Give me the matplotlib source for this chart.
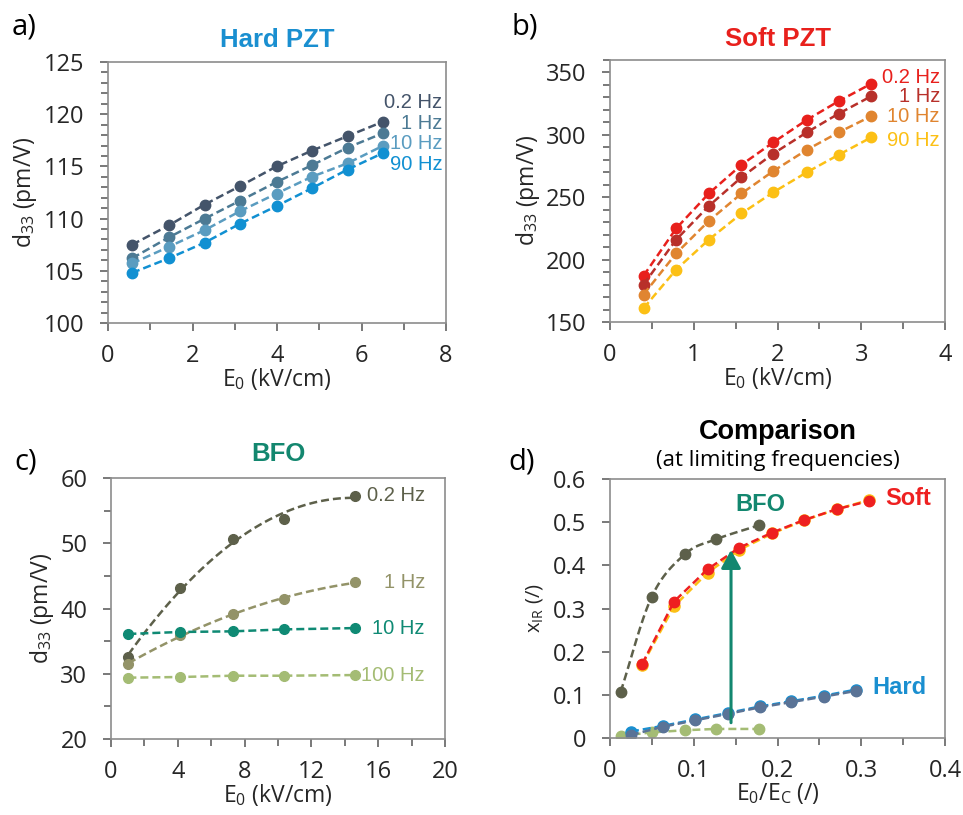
import numpy as np
import matplotlib
matplotlib.use("Agg")
import matplotlib.pyplot as plt
from matplotlib.ticker import MultipleLocator
from matplotlib.transforms import blended_transform_factory

plt.rcParams['font.family'] = ['Open Sans', 'DejaVu Sans']
plt.rcParams['mathtext.default'] = 'regular'

# ---- a) Hard PZT ----
hard_e0 = [0.57, 1.44, 2.29, 3.12, 3.99, 4.82, 5.67, 6.52]
hard_d33 = {
    '0.2 Hz': [107.5, 109.35, 111.35, 113.1, 115.0, 116.5, 117.9, 119.3],
    '1 Hz': [106.2, 108.2, 110.0, 111.7, 113.5, 115.1, 116.8, 118.2],
    '10 Hz': [105.7, 107.3, 108.9, 110.7, 112.4, 114.0, 115.3, 117.0],
    '90 Hz': [104.8, 106.2, 107.7, 109.5, 111.2, 112.9, 114.7, 116.3],
}
hard_colors = ['#44546a', '#4c7a94', '#5a9cc0', '#1190d2']

# ---- b) Soft PZT ----
soft_e0 = [0.40, 0.79, 1.18, 1.57, 1.95, 2.35, 2.73, 3.12]
soft_d33 = {
    '0.2 Hz': [187, 225, 253, 276, 294, 312, 327, 341],
    '1 Hz': [180, 216, 243, 266, 285, 302, 317, 331],
    '10 Hz': [172, 205, 231, 253, 271, 288, 302, 315],
    '90 Hz': [161, 192, 216, 237, 254, 270, 284, 298],
}
soft_colors = ['#e8201c', '#b8302a', '#e08530', '#fcc015']

# ---- c) BFO ----
bfo_e0 = [1.04, 4.13, 7.29, 10.38, 14.6]
bfo_d33 = {
    '0.2 Hz': [32.6, 43.2, 50.6, 53.7, 57.3],
    '1 Hz': [31.5, 35.9, 39.1, 41.5, 44.0],
    '10 Hz': [36.1, 36.4, 36.5, 36.8, 37.0],
    '100 Hz': [29.4, 29.5, 29.7, 29.7, 29.8],
}
bfo_colors = ['#5d604a', '#939368', '#0f8a74', '#a4bc74']
bfo_fit = [True, True, False, False]

# ---- d) Comparison ----
cmp_bfo_x = [0.0127, 0.0498, 0.0896, 0.126, 0.178]
cmp_bfo_slow = [0.107, 0.327, 0.426, 0.460, 0.493]
cmp_bfo_fast = [0.005, 0.013, 0.018, 0.021, 0.021]
cmp_soft_x = [0.0386, 0.0764, 0.1166, 0.1545, 0.1939, 0.2317, 0.2707, 0.3089]
cmp_soft_slow = [0.172, 0.316, 0.391, 0.441, 0.476, 0.505, 0.530, 0.549]
cmp_soft_fast = [0.170, 0.305, 0.383, 0.436, 0.474, 0.504, 0.530, 0.551]
cmp_hard_x = [0.025, 0.063, 0.102, 0.141, 0.179, 0.216, 0.2556, 0.2934]
cmp_hard_slow = [0.007, 0.026, 0.041, 0.056, 0.071, 0.083, 0.096, 0.109]
cmp_hard_fast = [0.015, 0.028, 0.043, 0.058, 0.073, 0.085, 0.098, 0.112]
arrow_x = 0.1445
arrow_y = (0.029, 0.442)

DASH = (3.2, 1.6)
SPINE = '#8c8c8c'
TXT = '#262626'
TICK_FS = 17
LABEL_FS = 16.5
FREQ_FS = 14.5


def smooth_line(x, y, n=20):
    # Catmull-Rom style smoothing, like a spreadsheet "smoothed line"
    x = np.asarray(x, float)
    y = np.asarray(y, float)
    px = np.concatenate([[2 * x[0] - x[1]], x, [2 * x[-1] - x[-2]]])
    py = np.concatenate([[2 * y[0] - y[1]], y, [2 * y[-1] - y[-2]]])
    xs, ys = [], []
    t = np.linspace(0, 1, n)
    for i in range(1, len(px) - 2):
        for p, out in ((px, xs), (py, ys)):
            p0, p1, p2, p3 = p[i - 1], p[i], p[i + 1], p[i + 2]
            out.extend(0.5 * ((2 * p1) + (-p0 + p2) * t
                              + (2 * p0 - 5 * p1 + 4 * p2 - p3) * t ** 2
                              + (-p0 + 3 * p1 - 3 * p2 + p3) * t ** 3))
    return np.array(xs), np.array(ys)


def style_axes(ax, xlim, ylim, xmaj, xmin, ymaj, ymin, xlabel, ylabel, ylabel_fs=LABEL_FS):
    ax.set_xlim(*xlim)
    ax.set_ylim(*ylim)
    ax.xaxis.set_major_locator(MultipleLocator(xmaj))
    ax.yaxis.set_major_locator(MultipleLocator(ymaj))
    if xmin:
        ax.xaxis.set_minor_locator(MultipleLocator(xmin))
    if ymin:
        ax.yaxis.set_minor_locator(MultipleLocator(ymin))
    for s in ax.spines.values():
        s.set_color(SPINE)
        s.set_linewidth(1.2)
    ax.tick_params(which='both', direction='out', color='#555555', width=1.1,
                   labelsize=TICK_FS, labelcolor=TXT, top=False, right=False)
    ax.tick_params(which='major', length=6)
    ax.tick_params(axis='x', which='major', pad=9)
    ax.tick_params(axis='y', which='major', pad=11)
    ax.tick_params(which='minor', length=5)
    ax.set_xlabel(xlabel, fontsize=LABEL_FS, color=TXT, labelpad=-1)
    ax.set_ylabel(ylabel, fontsize=ylabel_fs, color=TXT, labelpad=3)


def pos(l, r, t, b):
    W, H = 963, 815
    return [l / W, 1 - b / H, (r - l) / W, (b - t) / H]


fig = plt.figure(figsize=(9.63, 8.15), dpi=100)

# a) Hard PZT
ax = fig.add_axes(pos(108, 446, 62, 323))
for (lab, vals), c in zip(hard_d33.items(), hard_colors):
    ax.plot(hard_e0, vals, color=c, lw=1.8, dashes=DASH, marker='o', ms=7.5)
style_axes(ax, (0, 8), (100, 125), 2, 1, 5, 1, 'E$_0$ (kV/cm)', 'd$_{33}$ (pm/V)')
ax.set_title('Hard PZT', fontsize=18.5, fontweight='bold', color='#1a8fd0',
             family='Liberation Sans', pad=11)
for i, (lab, c) in enumerate(zip(hard_d33, hard_colors)):
    ax.text(0.99, 0.843 - i * 0.078, lab, transform=ax.transAxes, ha='right', va='center',
            fontsize=FREQ_FS, color=c, family='Liberation Sans')

# b) Soft PZT
ax = fig.add_axes(pos(610, 945, 60, 322))
for (lab, vals), c in zip(soft_d33.items(), soft_colors):
    ax.plot(soft_e0, vals, color=c, lw=1.8, dashes=DASH, marker='o', ms=7.5)
style_axes(ax, (0, 4), (150, 360), 1, 0.5, 50, 10, 'E$_0$ (kV/cm)', 'd$_{33}$ (pm/V)')
ax.set_title('Soft PZT', fontsize=18.5, fontweight='bold', color='#e8201c',
             family='Liberation Sans', pad=10)
for i, (lab, c) in enumerate(zip(soft_d33, soft_colors)):
    ax.text(0.985, 0.935 - i * 0.075 - (0.018 if i == 3 else 0), lab,
            transform=ax.transAxes, ha='right', va='center',
            fontsize=FREQ_FS, color=c, family='Liberation Sans')

# c) BFO
ax = fig.add_axes(pos(111, 445, 478, 739))
for (lab, vals), c, fit in zip(bfo_d33.items(), bfo_colors, bfo_fit):
    if fit:
        coef = np.polyfit(bfo_e0, vals, 2)
        xf = np.linspace(bfo_e0[0], bfo_e0[-1], 100)
        ax.plot(xf, np.polyval(coef, xf), color=c, lw=1.8, dashes=DASH)
        ax.plot(bfo_e0, vals, 'o', color=c, ms=7)
    else:
        ax.plot(bfo_e0, vals, color=c, lw=1.8, dashes=DASH, marker='o', ms=7)
style_axes(ax, (0, 20), (20, 60), 4, 2, 10, 5, 'E$_0$ (kV/cm)', 'd$_{33}$ (pm/V)')
ax.set_title('BFO', fontsize=18.5, fontweight='bold', color='#13876f',
             family='Liberation Sans', pad=12)
blend = blended_transform_factory(ax.transAxes, ax.transData)
for lab, vals, c in zip(bfo_d33, bfo_d33.values(), bfo_colors):
    ax.text(0.94, vals[-1], lab, transform=blend, ha='right', va='center',
            fontsize=FREQ_FS, color=c, family='Liberation Sans')

# d) Comparison
ax = fig.add_axes(pos(610, 945, 479, 738))
xs, ys = smooth_line(cmp_bfo_x, cmp_bfo_slow)
ax.plot(xs, ys, color='#5d604a', lw=1.8, dashes=DASH)
ax.plot(cmp_bfo_x, cmp_bfo_slow, 'o', color='#5d604a', ms=7.5)
ax.plot(cmp_bfo_x, cmp_bfo_fast, color='#a4bc74', lw=1.8, dashes=DASH, marker='o', ms=7.5)
ax.plot(cmp_hard_x, cmp_hard_fast, color='#1a8fd0', lw=1.8, dashes=DASH, marker='o', ms=8)
ax.plot(cmp_hard_x, cmp_hard_slow, color='#5a7396', lw=1.8, dashes=DASH, marker='o', ms=7.5)
ax.plot(cmp_soft_x, cmp_soft_fast, color='#fcc015', lw=1.8, dashes=DASH, marker='o', ms=8)
ax.plot(cmp_soft_x, cmp_soft_slow, color='#ee2020', lw=1.8, dashes=DASH, marker='o', ms=7.5)
ax.annotate('', xy=(arrow_x, arrow_y[1]), xytext=(arrow_x, arrow_y[0]),
            arrowprops=dict(arrowstyle='-|>,head_length=1.1,head_width=0.6',
                            color='#13876f', lw=2.2))
style_axes(ax, (0, 0.4), (0, 0.6), 0.1, 0.05, 0.1, None, 'E$_0$/E$_C$ (/)', 'x$_{IR}$ (/)',
           ylabel_fs=14.5)
ax.xaxis.set_major_formatter(lambda v, p: '0' if v == 0 else f'{v:.1f}')
ax.yaxis.set_major_formatter(lambda v, p: '0' if v == 0 else f'{v:.1f}')
ax.yaxis.labelpad = 6
ax.text(0.45, 0.9, 'BFO', transform=ax.transAxes, ha='center', va='center',
        fontsize=17, fontweight='bold', color='#13876f', family='Liberation Sans')
ax.text(0.89, 0.925, 'Soft', transform=ax.transAxes, ha='center', va='center',
        fontsize=17, fontweight='bold', color='#ee2020', family='Liberation Sans')
ax.text(0.865, 0.195, 'Hard', transform=ax.transAxes, ha='center', va='center',
        fontsize=17, fontweight='bold', color='#1a8fd0', family='Liberation Sans')
fig.text(778 / 963, 1 - 432 / 815, 'Comparison', ha='center', va='center',
         fontsize=19.5, fontweight='bold', color='black', family='Liberation Sans')
fig.text(778 / 963, 1 - 461 / 815, '(at limiting frequencies)', ha='center', va='center',
         fontsize=16, color='black')

# panel letters
for lab, x, y in [('a)', 12, 27), ('b)', 512, 27), ('c)', 14, 462), ('d)', 508, 462)]:
    fig.text(x / 963, 1 - y / 815, lab, ha='left', va='center', fontsize=21, color='black')

fig.savefig('out.png', dpi=100)
